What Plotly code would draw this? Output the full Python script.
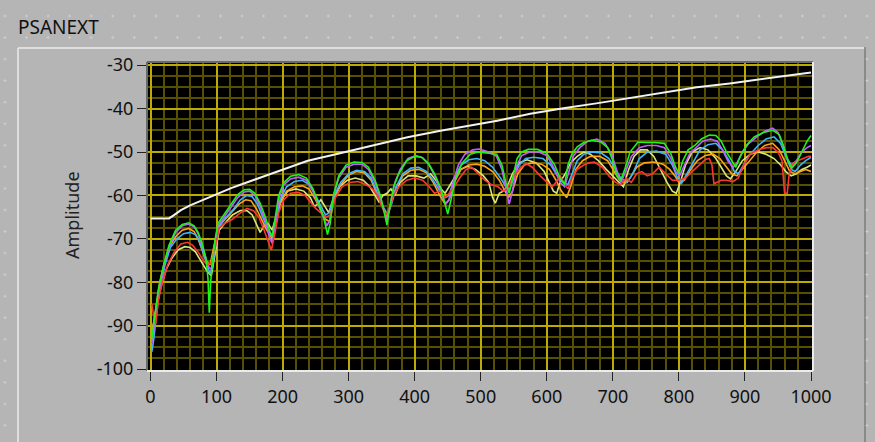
import plotly.graph_objects as go

# ---------------- data ----------------
x_ticks = [0, 100, 200, 300, 400, 500, 600, 700, 800, 900, 1000]
y_ticks = [-100, -90, -80, -70, -60, -50, -40, -30]

limit_line = [(0, -65.3), (28, -65.3), (35, -64.6), (46, -63.4), (60, -62.3), (72, -61.5), (85, -60.6),
              (97, -59.9), (110, -59.0), (122, -58.3), (135, -57.6), (148, -56.9), (175, -55.4), (200, -54.2),
              (238, -52.0), (287, -50.3), (337, -48.4), (389, -46.6), (439, -45.1), (480, -44.0), (525, -42.8),
              (575, -41.2), (625, -39.9), (675, -38.8), (726, -37.6), (775, -36.3), (827, -35.1), (877, -34.2),
              (927, -33.2), (965, -32.4), (1000, -31.7)]

yellow = [(4,-90),(10,-85),(16,-81),(24,-77),(32,-74.5),(42,-72.5),(52,-71.8),(60,-72),(68,-73),(74,-74.5),(80,-76),
          (86,-77.5),(92,-78.5),(98,-73),(104,-68),(112,-66.5),(124,-64.5),(136,-63.5),(146,-63.5),(154,-64.5),(160,-66.5),
          (166,-68.5),(172,-67),(178,-66.5),(184,-68),(190,-65),(198,-61),(208,-59),(220,-58.5),(232,-59),(242,-60.5),
          (248,-62.5),(253,-62),(258,-61),(264,-62.5),(270,-64),(276,-61),(286,-58),(298,-56.5),(310,-56),(322,-56.5),
          (332,-58),(340,-60),(346,-61.5),(352,-60),(358,-59.5),(364,-58.5),(370,-60),(378,-57),(390,-55.5),(402,-55.5),
          (414,-56),(424,-55),(432,-56.5),(440,-58.5),(446,-59.5),(452,-58),(460,-56),(470,-54),(480,-53.3),(492,-54),
          (504,-55.5),(512,-57),(518,-60.5),(522,-61.8),(528,-59.5),(534,-59),(540,-58),(548,-55),(558,-52.5),(570,-51.8),
          (584,-52.5),(596,-54.5),(604,-57),(610,-59),(615,-59.5),(620,-57),(628,-55),(636,-52.5),(646,-51),(656,-50),
          (666,-50.5),(678,-52),(690,-54),(700,-55.5),(710,-57),(716,-58),(724,-54),(732,-51),(742,-49.5),(752,-49.5),
          (762,-51),(772,-54),(782,-57),(790,-59),(796,-59.5),(802,-57),(810,-53),(820,-50),(832,-49),(844,-49.5),
          (856,-51.5),(864,-53.5),(872,-55.5),(878,-56.2),(886,-54.5),(896,-52),(908,-50.5),(920,-50),(932,-50.5),
          (944,-51.5),(954,-53),(962,-54.5),(970,-55.5),(978,-55),(986,-54),(994,-53.5),(1000,-53)]

orange = [(3,-91),(8,-86),(14,-80),(20,-76),(28,-72),(38,-69.5),(48,-68),(58,-67.6),(66,-68.3),(72,-70),(78,-72.5),
          (84,-75),(90,-76),(96,-72),(102,-67.5),(110,-66),(122,-64),(134,-62),(144,-61),(152,-61.2),(160,-63),(168,-65.5),
          (176,-68),(184,-70),(190,-66.5),(196,-62),(206,-59),(218,-58),(230,-57.8),(240,-58.5),(250,-61),(258,-63.5),
          (265,-65.5),(271,-66),(278,-61),(288,-57.5),(300,-55.3),(312,-54.5),(324,-54.8),(334,-56.5),(344,-60),(352,-63),
          (358,-65),(364,-62),(372,-58),(382,-55.5),(394,-54.2),(406,-54),(418,-54.8),(428,-57),(438,-60),(446,-62),
          (452,-61),(460,-57),(470,-54),(482,-53),(494,-52.8),(506,-53.3),(518,-54.5),(528,-56.5),(536,-59),(542,-60.5),
          (548,-59),(556,-55),(566,-53),(578,-52.5),(592,-52.8),(604,-54),(614,-56.5),(622,-59),(630,-60.5),(636,-58),
          (644,-54),(654,-52),(666,-51),(680,-51),(692,-52),(702,-54.5),(710,-56.5),(718,-57.2),(726,-56),(736,-53.5),
          (748,-52.5),(762,-52.3),(776,-52.8),(786,-54),(794,-55.5),(800,-57),(808,-56.5),(818,-54),(828,-52),(840,-50.8),
          (852,-50.5),(862,-51.5),(872,-53.5),(880,-55),(888,-55.5),(896,-54),(906,-52),(918,-50),(930,-48.5),(942,-48),
          (952,-49.5),(960,-52),(968,-54.5),(976,-55),(984,-54.5),(992,-54),(1000,-54.5)]

cyan = [(2,-96),(5,-93),(10,-86),(16,-80),(22,-76),(30,-72),(40,-70),(50,-68.8),(60,-68.5),(68,-69),(74,-70.5),(80,-73),
        (86,-76),(90,-78),(94,-76.5),(98,-72),(104,-67),(112,-65.5),(124,-63.5),(136,-61),(146,-60),(154,-60.3),(162,-62),
        (170,-65),(178,-68),(184,-69.5),(190,-66),(196,-61),(206,-58),(218,-56.8),(230,-56.5),(240,-57.5),(250,-60),
        (258,-62.5),(265,-64.5),(271,-64),(278,-60),(288,-57),(300,-55),(312,-54.2),(324,-54.5),(334,-56),(344,-59.5),
        (352,-62.5),(359,-64.5),(365,-62),(372,-58),(382,-55),(394,-53.7),(406,-53.5),(418,-54.5),(428,-56.5),(438,-59),
        (446,-60.5),(452,-60),(460,-56),(470,-53),(482,-51.8),(494,-51.5),(506,-52),(518,-53.5),(530,-56),(538,-58),
        (544,-58.5),(550,-56),(558,-53),(568,-51.5),(580,-51.2),(594,-51.5),(606,-53),(616,-55.5),(624,-57),(632,-57.5),
        (638,-55),(646,-52),(656,-50.5),(668,-50),(682,-50.2),(694,-51.5),(704,-54),(712,-56),(722,-57),(730,-55),
        (740,-51.5),(752,-50),(766,-49.8),(780,-50.5),(790,-53),(798,-56),(804,-57.2),(812,-55),(822,-52),(832,-49.5),
        (844,-48.3),(856,-48),(866,-49.5),(876,-52),(884,-54.5),(890,-55),(898,-53),(908,-50.5),(920,-48.5),(932,-47),
        (944,-46.5),(954,-48),(962,-51),(970,-54),(976,-54.5),(984,-53),(992,-52),(1000,-51.2)]

purple = [(2,-94),(6,-90),(12,-82.5),(20,-76.5),(28,-72),(38,-68.5),(48,-67),(58,-66.6),(66,-67.2),(72,-68.8),(78,-71.5),
          (84,-74.5),(88,-76.5),(92,-77),(96,-73),(102,-67),(110,-65.3),(120,-63),(132,-60.5),(142,-59.2),(150,-59),
          (158,-60),(166,-62.5),(174,-66),(180,-69.5),(184,-71),(188,-68),(194,-61),(202,-57.5),(212,-56.2),(224,-55.8),
          (236,-56.5),(246,-59),(255,-62.5),(262,-65),(267,-67),(272,-65.5),(277,-60),(285,-56),(296,-53.5),(308,-52.8),
          (320,-52.8),(330,-54),(340,-57),(348,-60.5),(354,-63.5),(358,-65.8),(363,-62),(370,-57),(378,-54),(390,-51.5),
          (402,-50.8),(412,-51.3),(422,-53),(432,-56),(440,-59.5),(447,-62),(452,-61),(458,-57),(466,-53),(476,-50.5),
          (488,-49.5),(498,-49.3),(512,-50),(524,-51),(532,-54),(538,-58.5),(543,-62),(548,-59),(555,-53),(562,-50.8),
          (574,-50),(588,-50),(600,-50.8),(612,-54),(620,-57),(627,-58),(633,-55),(640,-51),(650,-49),(662,-47.5),
          (676,-47),(688,-48),(698,-50.5),(706,-54.5),(712,-57),(718,-55),(728,-51),(740,-49),(752,-48.5),(766,-48.5),
          (778,-49),(788,-51.5),(795,-54.5),(801,-55.5),(808,-53),(816,-50.5),(826,-49),(836,-47.5),(848,-47),
          (858,-47.5),(866,-49.5),(874,-52),(882,-53.5),(888,-52.5),(896,-50),(906,-48),(918,-46.5),(930,-45.2),
          (942,-44.5),(950,-45.5),(958,-48.5),(964,-51.5),(970,-53),(978,-52),(986,-50),(994,-49),(1000,-48.5)]

red = [(2,-85),(5,-88),(8,-89.5),(12,-84),(18,-80),(26,-76),(36,-73),(46,-71.2),(56,-70.8),(64,-71.5),(72,-73),(80,-75),
       (86,-76),(92,-75.5),(98,-72),(104,-67.5),(112,-66.5),(124,-65.5),(136,-64),(146,-63),(156,-63.5),(164,-65),
       (172,-68),(178,-70.5),(183,-72.6),(188,-69),(194,-64),(202,-61),(212,-59.5),(224,-59.3),(234,-60),(242,-61.5),
       (250,-63),(258,-64),(266,-65),(272,-64.5),(280,-60.5),(290,-58),(302,-57),(314,-56.8),(326,-57.5),(336,-58.5),
       (344,-60),(350,-62.5),(356,-64.5),(362,-63),(368,-60),(376,-58),(388,-56.5),(400,-56),(412,-56.5),(422,-58),
       (430,-59.5),(438,-59),(446,-60.5),(452,-59.5),(460,-58),(468,-56),(478,-54),(486,-53.5),(496,-55),(506,-56.5),
       (516,-57.5),(526,-58),(534,-59),(540,-58.5),(548,-56),(558,-54),(568,-52.6),(578,-53.5),(590,-55.5),(600,-57),
       (608,-58),(614,-57),(620,-55.5),(626,-57),(632,-58.5),(638,-56),(646,-54),(656,-53),(664,-52.5),(672,-52.3),
       (684,-53.5),(694,-55.5),(704,-57),(712,-57.5),(720,-56),(728,-57),(736,-55),(744,-54.5),(752,-55.5),(760,-55),
       (770,-53.5),(780,-55),(790,-56.5),(800,-56.5),(810,-56),(820,-54.5),(830,-53),(840,-51.7),(846,-51.5),(850,-53),
       (853,-57.3),(858,-57),(864,-56.5),(872,-56.5),(882,-56.8),(890,-56),(898,-53),(908,-50.5),(920,-49.5),(932,-49),
       (942,-49),(950,-50),(956,-52),(960,-59.5),(964,-59.5),(967,-55),(972,-53),(980,-52),(988,-51.5),(996,-51),(1000,-51)]

green = [(2,-93),(6,-88),(12,-81.5),(20,-76),(28,-71.5),(38,-68),(48,-66.7),(58,-66.3),(66,-67),(72,-68.5),(78,-71),
         (84,-74.5),(87,-79),(89,-87),(91,-80),(94,-75),(98,-70),(102,-66.5),(110,-64.8),(120,-62.5),(132,-59.8),
         (142,-58.7),(150,-58.6),(158,-59.5),(166,-61.8),(174,-65),(180,-68),(184,-69.5),(188,-66),(194,-60),(202,-57),
         (212,-55.6),(224,-55.2),(236,-56),(246,-58.5),(255,-62),(262,-65),(268,-69),(272,-66.5),(277,-60),(285,-55.5),
         (296,-53),(308,-52.3),(320,-52.4),(330,-53.5),(340,-56.5),(348,-60),(354,-64),(358,-66.8),(362,-63),(368,-58),
         (376,-55),(388,-52),(400,-51),(410,-51.2),(420,-52.5),(430,-55),(440,-58.5),(446,-62),(450,-64.3),(455,-61),
         (462,-56),(472,-52.5),(484,-50.5),(496,-50),(510,-50.2),(524,-50.5),(532,-53),(538,-57),(543,-59.5),(548,-56),
         (555,-51.5),(562,-50),(572,-49.4),(586,-49.4),(600,-50.3),(612,-53),(620,-56),(627,-57.5),(632,-53),(638,-50.5),
         (646,-48.8),(656,-47.8),(668,-47.3),(682,-47.7),(692,-49),(700,-52),(706,-55.5),(712,-56.5),(718,-54),(726,-50),
         (738,-47.7),(750,-47.8),(764,-47.8),(778,-48),(788,-50.5),(795,-53.5),(800,-55),(806,-52),(814,-49.5),
         (824,-48.5),(834,-47),(846,-46.1),(856,-46.2),(864,-47.5),(872,-50),(880,-52),(886,-53.5),(893,-51),(902,-48.5),
         (914,-46.5),(928,-45.5),(942,-45),(952,-46),(958,-48.5),(964,-51.5),(971,-53.7),(978,-52.5),(986,-50),
         (994,-47.5),(1000,-46.2)]

series = [("yellow", yellow, "#d6e67c"), ("orange", orange, "#ffa21a"), ("cyan", cyan, "#3cb6ff"),
          ("purple", purple, "#c15cff"), ("red", red, "#ff3434"), ("green", green, "#1cf41c")]

# ---------------- layout geometry (pixels) ----------------
W, H = 875, 442
PL, PR, PT, PB = 148, 812, 63, 370   # plot area edges
BG = "#b5b5b5"


def px(xp):
    return (xp - PL) / (PR - PL)


def py(yp):
    return (PB - yp) / (PB - PT)


fig = go.Figure()

for name, pts, col in series:
    fig.add_trace(go.Scatter(x=[p[0] for p in pts], y=[p[1] for p in pts], mode="lines",
                             line=dict(color=col, width=1.6), name=name, hoverinfo="skip"))

fig.add_trace(go.Scatter(x=[p[0] for p in limit_line], y=[p[1] for p in limit_line], mode="lines",
                         line=dict(color="#f2f2f2", width=2), name="limit", hoverinfo="skip"))

font = dict(family="Noto Sans, Segoe UI, Tahoma, sans-serif", size=18, color="#111111")

shapes = []
# plot-area inset border (dark top/left, light bottom/right)
shapes.append(dict(type="line", xref="paper", yref="paper", x0=px(PL - 1), x1=px(PR + 1), y0=py(PT - 1), y1=py(PT - 1),
                   line=dict(color="#6a6a6a", width=2), layer="above"))
shapes.append(dict(type="line", xref="paper", yref="paper", x0=px(PL - 1), x1=px(PL - 1), y0=py(PT - 1), y1=py(PB + 1),
                   line=dict(color="#6a6a6a", width=2), layer="above"))
shapes.append(dict(type="line", xref="paper", yref="paper", x0=px(PL - 1), x1=px(PR + 1), y0=py(PB + 1), y1=py(PB + 1),
                   line=dict(color="#ececec", width=2), layer="above"))
shapes.append(dict(type="line", xref="paper", yref="paper", x0=px(PR + 1), x1=px(PR + 1), y0=py(PT - 1), y1=py(PB + 1),
                   line=dict(color="#ececec", width=2), layer="above"))
# outer frame of the graph control
shapes.append(dict(type="line", xref="paper", yref="paper", x0=px(18), x1=px(865), y0=py(48), y1=py(48),
                   line=dict(color="#dedede", width=2), layer="above"))
shapes.append(dict(type="line", xref="paper", yref="paper", x0=px(18), x1=px(18), y0=py(48), y1=py(H + 5),
                   line=dict(color="#dedede", width=2), layer="above"))
shapes.append(dict(type="line", xref="paper", yref="paper", x0=px(865), x1=px(865), y0=py(47), y1=py(H + 5),
                   line=dict(color="#7c7c7c", width=1.5), layer="above"))

# panel grid "+" dots outside the frame
step = 21.55
path = []
arm = 1.5
for i in range(0, 42):
    for j in range(0, 21):
        xd = 5 + i * step
        yd = 16 + j * step
        if yd > H:
            continue
        outside = yd < 45 or xd < 15 or xd > 866
        if not outside or xd > W:
            continue
        path.append(f"M{px(xd - arm):.5f},{py(yd):.5f}L{px(xd + arm):.5f},{py(yd):.5f}"
                    f"M{px(xd):.5f},{py(yd - arm):.5f}L{px(xd):.5f},{py(yd + arm):.5f}")
shapes.append(dict(type="path", xref="paper", yref="paper", path="".join(path),
                   line=dict(color="#cdcdcd", width=1), layer="above"))

annotations = [
    dict(text="PSANEXT", xref="paper", yref="paper", x=px(16), y=py(27), xanchor="left", yanchor="middle",
         showarrow=False, font=dict(family=font["family"], size=19, color="#111111")),
    dict(text="Amplitude", xref="paper", yref="paper", x=px(72), y=py(215), xanchor="center", yanchor="middle",
         textangle=-90, showarrow=False, font=dict(family=font["family"], size=18, color="#222222")),
]

fig.update_layout(
    width=W, height=H,
    margin=dict(l=PL, r=W - PR, t=PT, b=H - PB, pad=0),
    paper_bgcolor=BG, plot_bgcolor="#000000",
    showlegend=False, font=font,
    shapes=shapes, annotations=annotations,
    xaxis=dict(range=[-3.8, 1001.5], tickmode="array", tickvals=x_ticks, ticktext=[str(v) for v in x_ticks],
               ticks="outside", ticklen=10, tickwidth=1.3, tickcolor="#222222",
               showgrid=True, gridcolor="#bcab00", gridwidth=2, zeroline=False, showline=False,
               minor=dict(dtick=20, tick0=0, showgrid=True, gridcolor="#565000", gridwidth=2, ticks=""),
               fixedrange=True),
    yaxis=dict(range=[-100.2, -29.5], tickmode="array", tickvals=y_ticks, ticktext=[str(v) for v in y_ticks],
               ticks="outside", ticklen=10, tickwidth=1.3, tickcolor="#222222",
               showgrid=True, gridcolor="#bcab00", gridwidth=2, zeroline=False, showline=False,
               minor=dict(dtick=2.5, tick0=-100, showgrid=True, gridcolor="#565000", gridwidth=2, ticks=""),
               fixedrange=True),
)

fig.write_html("out.html", config={"displayModeBar": False})
